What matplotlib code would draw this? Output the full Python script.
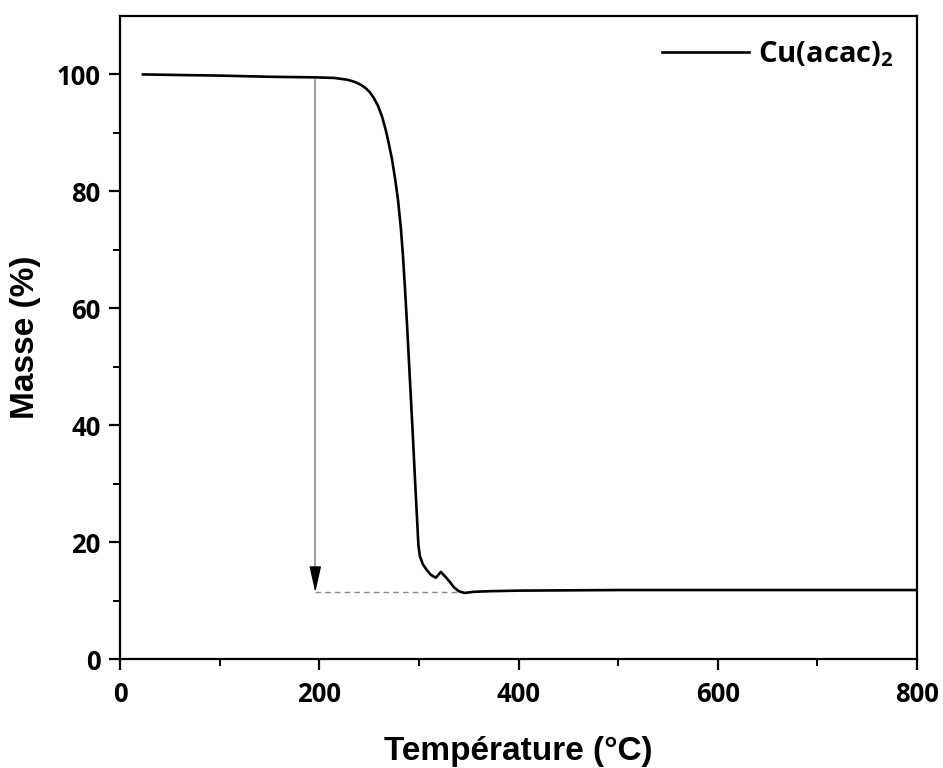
import matplotlib.pyplot as plt

# Courbe ATG de Cu(acac)2
temperature = [23, 60, 100, 150, 196, 215, 228, 236, 242, 247, 251, 255, 259, 263, 267,
               270, 273, 276, 279, 282, 284, 286, 288, 290, 292, 294, 296, 298, 299.5,
               301, 304, 308, 312, 317, 322, 327, 331, 335, 340, 346, 355, 371, 400,
               500, 600, 700, 800]
masse = [100, 99.9, 99.8, 99.6, 99.5, 99.4, 99.1, 98.7, 98.2, 97.6, 96.9, 95.9, 94.6, 92.8, 90.3,
         88.0, 85.5, 82.3, 78.6, 73.5, 69.0, 63.5, 57.5, 51.0, 44.5, 38.0, 31.0, 24.5, 19.5,
         17.6, 16.2, 15.2, 14.4, 13.9, 14.9, 14.0, 13.2, 12.3, 11.6, 11.3, 11.5, 11.6, 11.7,
         11.8, 11.8, 11.8, 11.8]

# flèche de perte de masse
t_fleche = 196
m_debut = 99.1
m_residu = 11.4
t_fin_pointille = 340

plt.rcParams['mathtext.fontset'] = 'custom'
plt.rcParams['mathtext.rm'] = 'Open Sans:bold'
plt.rcParams['mathtext.default'] = 'rm'

fig = plt.figure(figsize=(9.43, 7.68), dpi=100)
ax = fig.add_axes([0.1273, 0.1419, 0.8451, 0.8373])

ax.plot(temperature, masse, color='black', linewidth=1.9, label='Cu(acac)$_2$',
        solid_joinstyle='round')

# tige grise + pointe noire
ax.plot([t_fleche, t_fleche], [m_debut, m_residu + 2.5], color='#8a8a8a', linewidth=1.2)
ax.annotate('', xy=(t_fleche, m_residu), xytext=(t_fleche, m_residu + 3.0),
            arrowprops=dict(arrowstyle='-|>,head_length=0.8,head_width=0.18',
                            color='black', lw=1.0, mutation_scale=20,
                            shrinkA=0, shrinkB=0))
ax.plot([t_fleche, t_fin_pointille], [m_residu, m_residu], color='#8a8a8a',
        linestyle=(0, (4, 3)), linewidth=1.0)

ax.set_xlim(0, 800)
ax.set_ylim(0, 110)
ax.set_xticks([0, 200, 400, 600, 800])
ax.set_xticks([100, 300, 500, 700], minor=True)
ax.set_yticks([0, 20, 40, 60, 80, 100])
ax.set_yticks([10, 30, 50, 70, 90], minor=True)

for s in ax.spines.values():
    s.set_linewidth(1.6)
ax.tick_params(which='major', direction='out', length=8, width=1.6, top=False, right=False)
ax.tick_params(which='minor', direction='out', length=5, width=1.4, top=False, right=False)
for lab in ax.get_xticklabels() + ax.get_yticklabels():
    lab.set_fontfamily('Open Sans')
    lab.set_fontweight('bold')
    lab.set_fontsize(18.5)
ax.tick_params(axis='x', pad=8)
ax.tick_params(axis='y', pad=6)

ax.set_xlabel('Température (°C)', fontfamily='Liberation Sans', fontweight='bold',
              fontsize=24, labelpad=20)
ax.set_ylabel('Masse (%)', fontfamily='Liberation Sans', fontweight='bold',
              fontsize=24, labelpad=11)

leg = ax.legend(loc='upper right', frameon=False, handlelength=3.0, handletextpad=0.3,
                borderaxespad=0.4, prop={'family': 'Open Sans', 'weight': 'bold', 'size': 21})

fig.savefig('out.png', dpi=100)
